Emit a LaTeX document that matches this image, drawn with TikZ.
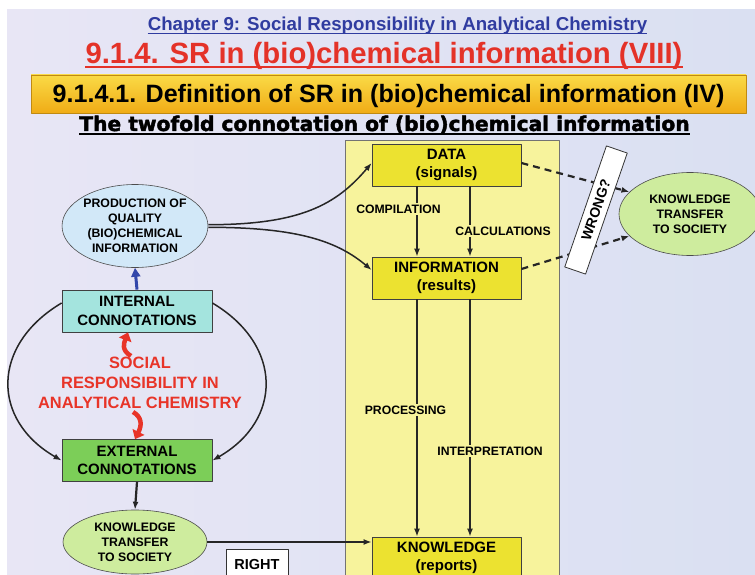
\documentclass[tikz,border=0pt]{standalone}
\usepackage{fontspec}
\setmainfont{Liberation Sans}
\newfontfamily\heavyfont[BoldFeatures={FakeBold=2.2}]{DejaVu Sans}
\usetikzlibrary{arrows.meta,shapes.geometric}
\definecolor{titleblue}{RGB}{48,60,160}
\definecolor{titlered}{RGB}{228,50,40}
\definecolor{redtxt}{RGB}{232,52,40}
\definecolor{bannertop}{RGB}{250,218,70}
\definecolor{bannerbot}{RGB}{240,172,22}
\definecolor{colyellow}{RGB}{247,243,156}
\definecolor{boxyellow}{RGB}{236,226,48}
\definecolor{intcol}{RGB}{164,228,222}
\definecolor{extcol}{RGB}{124,206,88}
\definecolor{prodcol}{RGB}{210,232,248}
\definecolor{ktcol}{RGB}{206,236,158}
\definecolor{arrblue}{RGB}{50,70,170}
\definecolor{bgleft}{RGB}{232,230,245}
\definecolor{bgmid}{RGB}{150,186,224}
\definecolor{bgright}{RGB}{218,224,242}

\begin{document}
\begin{tikzpicture}[x=1pt,y=-1pt,line join=round,
  box/.style={draw=black!75,line width=0.8pt,minimum width=150pt,minimum height=42pt,align=center,inner sep=0pt,font=\bfseries\fontsize{15}{18.5}\selectfont},
  oval/.style={ellipse,draw=black!70,line width=0.6pt,align=center,inner sep=0pt,fill=ktcol,font=\bfseries\fontsize{12.3}{15}\selectfont},
  lbl/.style={fill=colyellow,inner sep=2pt,font=\bfseries\fontsize{12.2}{14}\selectfont},
  arr/.style={-{Latex[length=8pt,width=6pt]},line width=1.5pt,black!85},
  dasharr/.style={arr,line width=2.2pt,dash pattern=on 7pt off 5pt},
  redarr/.style={-{Triangle[length=8pt,width=13pt]},line width=4.5pt,redtxt},
  uline/.style={line width=#1}]
\useasboundingbox (0,0) rectangle (755,575);
\fill[white] (0,0) rectangle (755,575);
\shade[left color=bgleft,middle color=bgmid,right color=bgright] (7,10) rectangle (755,575);
\node[font=\bfseries\fontsize{18.7}{20}\selectfont,text=titleblue,inner sep=0pt,anchor=base] (chap) at (397.5,31) {Chapter 9: Social Responsibility in Analytical Chemistry};
\draw[titleblue,uline=1.3pt] ([yshift=-2.8pt]chap.base west) -- ([yshift=-2.8pt]chap.base east);
\node[font=\bfseries\fontsize{29.3}{32}\selectfont,text=titlered,inner sep=0pt,anchor=base] (sect) at (384,64) {9.1.4. SR in (bio)chemical information (VIII)};
\draw[titlered,uline=2pt] ([yshift=-3.5pt]sect.base west) -- ([yshift=-3.5pt]sect.base east);
\node[top color=bannertop,bottom color=bannerbot,draw=bannerbot!80!black,line width=0.4pt,minimum width=715pt,minimum height=38pt,inner sep=0pt,text height=18pt,text depth=0pt,font=\bfseries\fontsize{25.1}{28}\selectfont] (banner) at (388.5,94) {9.1.4.1. Definition of SR in (bio)chemical information (IV)};
\node[font=\heavyfont\bfseries\fontsize{20.2}{22}\selectfont,inner sep=0pt,anchor=base] (twofold) at (384.5,131) {The twofold connotation of (bio)chemical information};
\draw[uline=2pt] ([yshift=-2.6pt]twofold.base west) -- ([yshift=-2.6pt]twofold.base east);
\draw[fill=colyellow,draw=black!55,line width=0.8pt] (345,140) rectangle (559,590);
\node[box,fill=boxyellow,minimum width=149pt] (data) at (446.5,165) {DATA\\(signals)};
\node[box,fill=boxyellow,minimum width=149pt] (info) at (446.5,278) {INFORMATION\\(results)};
\node[box,fill=boxyellow,minimum width=149pt] (know) at (446.5,558) {KNOWLEDGE\\(reports)};
\foreach \dx/\src/\dst in {-29.5/data/info,23.5/data/info,-29.5/info/know,23.5/info/know}{\draw[arr] ([xshift=\dx pt]\src.south) -- ([xshift=\dx pt]\dst.north);}
\foreach \x/\y/\nm/\lab in {398.5/209/comp/COMPILATION,503/231/calc/CALCULATIONS,405.5/410/proc/PROCESSING,490/451/interp/INTERPRETATION}{\node[lbl] (\nm) at (\x,\y) {\lab};}
\node[oval,fill=prodcol,minimum width=144pt,minimum height=83pt] (prod) at (135,226) {PRODUCTION OF\\QUALITY\\(BIO)CHEMICAL\\INFORMATION};
\node[box,fill=intcol] (int) at (137,311) {INTERNAL\\CONNOTATIONS};
\node[box,fill=extcol] (ext) at (137,460.5) {EXTERNAL\\CONNOTATIONS};
\node[oval,minimum width=144pt,minimum height=64pt] (ktl) at (135,542) {KNOWLEDGE\\TRANSFER\\TO SOCIETY};
\node[oval,minimum width=142pt,minimum height=83pt] (ktr) at (690,214) {KNOWLEDGE\\TRANSFER\\TO SOCIETY};
\node[text=redtxt,align=center,font=\bfseries\fontsize{16.4}{20}\selectfont] (sr) at (140,383) {SOCIAL\\RESPONSIBILITY IN\\ANALYTICAL CHEMISTRY};
\node[draw=black!80,fill=white,line width=0.8pt,minimum width=62pt,minimum height=30pt,anchor=north,font=\bfseries\fontsize{14.5}{16}\selectfont] (right) at (257,549) {RIGHT};
\draw[arr,-{Triangle[length=9pt,width=9pt]},line width=3pt,arrblue] (int.north) -- (prod.south);
\draw[arr,line width=2.2pt] (ext.south) -- (ktl.north);
\draw[arr] (ktl.east) -- (ktl.east -| know.west);
\draw[arr] ([yshift=1.3pt]prod.east) .. controls (300,224.7) and (336,205) .. ([yshift=2pt]data.west);
\draw[arr] ([yshift=-1.3pt]prod.east) .. controls (300,227.3) and (338,242) .. ([yshift=8pt]info.west);
\draw[arr] ([yshift=8pt]int.west) .. controls (-9,345) and (-9,420) .. (ext.west);
\draw[arr] ([yshift=8pt]int.east) .. controls (283,345) and (283,420) .. (ext.east);
\coordinate (srtop) at (131,356);
\coordinate (srbot) at (133,412);
\draw[redarr] (srtop) .. controls (121,350) and (124,343) .. ([xshift=-9pt]int.south);
\draw[redarr] (srbot) .. controls (142,417) and (142,425) .. ([xshift=-2pt]ext.north);
\draw[dasharr] ([yshift=2pt]data.east) -- (ktr.160);
\draw[dasharr] ([yshift=9pt]info.east) -- (ktr.200);
\node[draw=black!80,fill=white,line width=0.8pt,rotate=71,minimum width=128pt,minimum height=22pt,inner sep=0pt,font=\bfseries\fontsize{14}{16}\selectfont] (wrong) at (596,210) {WRONG?};
\end{tikzpicture}
\end{document}
